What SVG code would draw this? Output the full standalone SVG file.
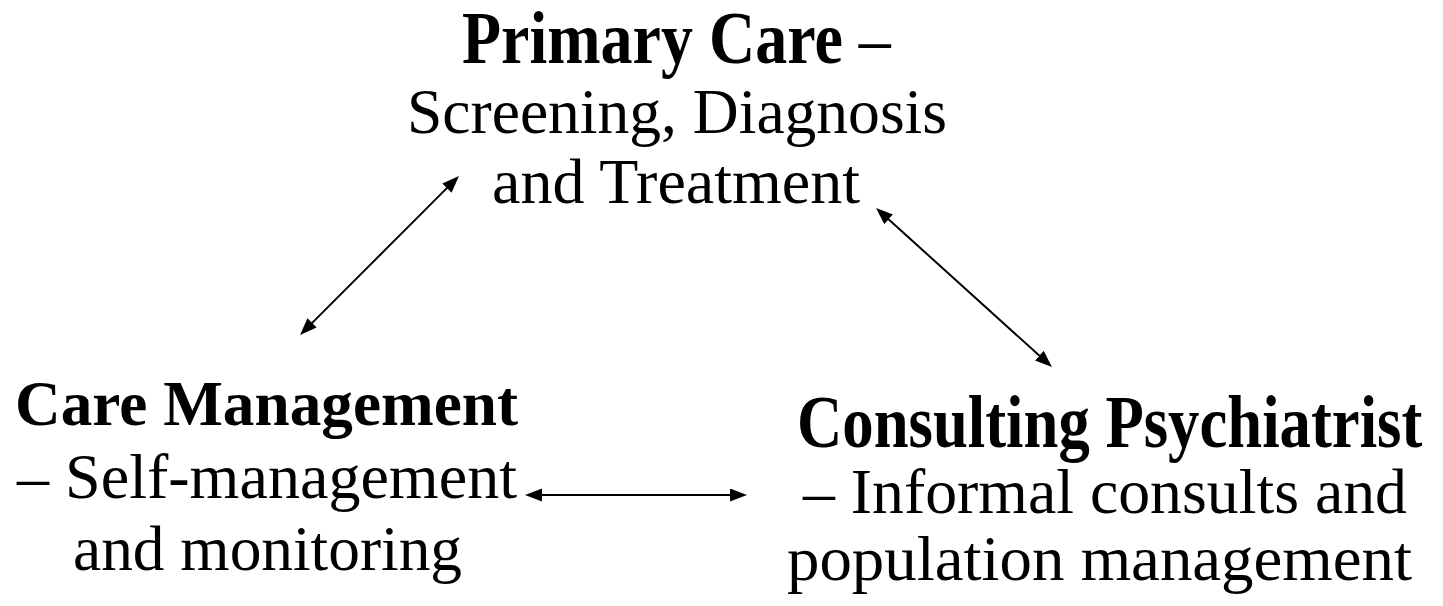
<svg xmlns="http://www.w3.org/2000/svg" width="1443" height="606" viewBox="0 0 1443 606">
<style>
text { font-family: "Liberation Serif", "Times New Roman", serif; fill: #000; font-size: 64px; }
.b { font-weight: bold; }
.conn line { stroke: #000; stroke-width: 2; fill: none; }
</style>
<defs>
<marker id="ah" markerUnits="userSpaceOnUse" markerWidth="18" markerHeight="14" refX="8" refY="6.5" orient="auto-start-reverse">
<path d="M0,0 L17,6.5 L0,13 z" fill="#000"/>
</marker>
</defs>
<rect width="1443" height="606" fill="#fff"/>
<g id="primary-care">
<text transform="translate(462,63) scale(1,1.14)" x="0" y="0"><tspan class="b">Primary Care</tspan> –</text>
<text x="407" y="133" textLength="540" lengthAdjust="spacingAndGlyphs">Screening, Diagnosis</text>
<text x="492" y="203" textLength="368" lengthAdjust="spacingAndGlyphs">and Treatment</text>
</g>
<g id="care-management">
<text class="b" x="15" y="425" textLength="503" lengthAdjust="spacingAndGlyphs">Care Management</text>
<text x="17" y="498" textLength="500" lengthAdjust="spacingAndGlyphs">– Self-management</text>
<text x="73" y="570" textLength="389" lengthAdjust="spacingAndGlyphs">and monitoring</text>
</g>
<g id="consulting-psychiatrist">
<text class="b" transform="translate(797,447) scale(0.98,1.14)" x="0" y="0">Consulting Psychiatrist</text>
<text x="803" y="513" textLength="604" lengthAdjust="spacingAndGlyphs">– Informal consults and</text>
<text x="787" y="580" textLength="625" lengthAdjust="spacingAndGlyphs">population management</text>
</g>
<g id="connectors" class="conn">
<line x1="306.4" y1="328.6" x2="452.6" y2="182.4" marker-start="url(#ah)" marker-end="url(#ah)"/>
<line x1="882.7" y1="214" x2="1045.3" y2="361" marker-start="url(#ah)" marker-end="url(#ah)"/>
<line x1="534" y1="495" x2="738" y2="495" marker-start="url(#ah)" marker-end="url(#ah)"/>
</g>
</svg>
